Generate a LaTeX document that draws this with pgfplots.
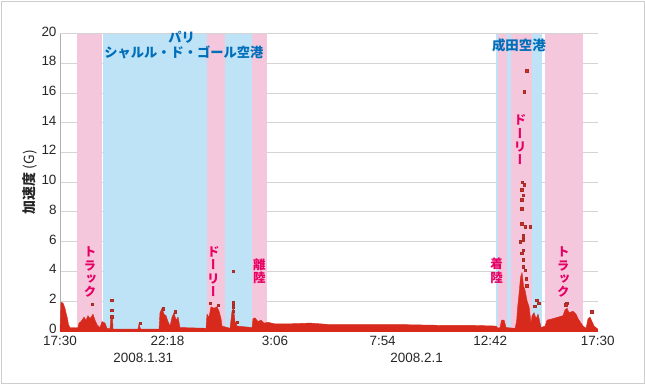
\documentclass[border=0pt]{standalone}
\usepackage{pgfplots}
\pgfplotsset{compat=1.18}
\usepackage{fontspec}
\setmainfont{Liberation Sans}
\newfontfamily\cjk{Noto Sans CJK JP}
\newfontfamily\cjkv[RawFeature=+vert]{Noto Sans CJK JP}
\definecolor{bandpink}{RGB}{245,199,221}
\definecolor{bandblue}{RGB}{190,227,247}
\definecolor{datared}{RGB}{216,42,28}
\definecolor{markdark}{RGB}{165,45,40}
\definecolor{labred}{RGB}{230,0,100}
\definecolor{labblue}{RGB}{0,110,185}
\definecolor{gridgray}{RGB}{212,212,212}
\definecolor{axisgray}{RGB}{175,175,175}
\definecolor{framegray}{RGB}{205,205,205}
\begin{document}
\begin{tikzpicture}
\useasboundingbox (0,0) rectangle (645bp,-385bp);
\draw[framegray, line width=1bp] (1bp,-1bp) rectangle (644bp,-383.5bp);
\begin{axis}[at={(60bp,-330.5bp)}, anchor=south west, scale only axis,
  width=537.7bp, height=297bp,
  xmin=0, xmax=1440, ymin=0, ymax=20, clip=false,
  axis lines*=left, axis line style={draw=axisgray, line width=0.6bp},
  xtick={0,288,576,864,1152,1440},
  xticklabels={17:30,22:18,3:06,7:54,12:42,17:30},
  ytick={0,2,...,20}, ymajorgrids, grid style={gridgray, line width=0.6bp},
  major tick length=0pt, tick style={draw=none},
  /pgf/number format/assume math mode=true,
  tick label style={font=\fontsize{13.5}{15}\selectfont, text=black!85},
  yticklabel style={yshift=2bp},
  xticklabel style={yshift=-2bp},
  ylabel={\cjk\bfseries 加速度 \mdseries(G)},
  ylabel style={at={(axis description cs:-0.0558,0.5)}, anchor=center, font=\fontsize{14}{16}\selectfont, text=black!85},
]
% bands
\addplot[fill=bandpink, draw=none] coordinates {(45.5,20) (111.7,20)} \closedcycle;
\addplot[fill=bandblue, draw=none] coordinates {(114.4,20) (393.7,20)} \closedcycle;
\addplot[fill=bandpink, draw=none] coordinates {(393.7,20) (441.9,20)} \closedcycle;
\addplot[fill=bandblue, draw=none] coordinates {(441.9,20) (513.4,20)} \closedcycle;
\addplot[fill=bandpink, draw=none] coordinates {(513.4,20) (555.2,20)} \closedcycle;
\addplot[fill=bandblue, draw=none] coordinates {(1167.6,20) (1174.3,20)} \closedcycle;
\addplot[fill=bandpink, draw=none] coordinates {(1174.3,20) (1197.2,20)} \closedcycle;
\addplot[fill=bandblue, draw=none] coordinates {(1197.2,20) (1207.8,20)} \closedcycle;
\addplot[fill=bandpink, draw=none] coordinates {(1207.8,20) (1263.6,20)} \closedcycle;
\addplot[fill=bandblue, draw=none] coordinates {(1263.6,20) (1290.0,20)} \closedcycle;
\addplot[fill=bandpink, draw=none] coordinates {(1297.6,20) (1401.5,20)} \closedcycle;
% data envelope
\addplot[fill=datared, draw=datared, line width=0.4bp] coordinates {
(0,0) (2.7,1.9) (8.0,1.85) (13.4,1.5) (16.1,1.2) (20.1,0.8) (22.8,0.4) (26.8,0.2)
(48.2,0.2) (50.9,0.5) (56.2,0.6) (64.3,0.9) (69.6,0.7) (75.0,1.0) (80.4,0.8) (88.4,1.1)
(93.7,0.7) (99.1,0.4) (107.1,0.2) (112.5,0.6) (120.5,0.5) (125.9,0.15) (133.9,0.15)
(136.6,0.9) (140.6,0.9) (142.0,0.1) (208.9,0.1) (211.6,0.45) (215.6,0.1) (265.2,0.1)
(267.8,1.2) (273.2,1.5) (278.6,1.1) (283.9,1.0) (289.3,0.6) (294.6,0.3) (300.0,0.9)
(305.3,1.2) (310.7,0.7) (316.1,0.9) (321.4,0.2) (391.0,0.15) (393.7,1.1) (399.1,0.9)
(404.4,1.6) (412.5,1.5) (420.5,1.6) (425.9,1.3) (431.2,0.8) (433.9,0.3) (455.3,0.15)
(460.7,1.3) (464.7,1.5) (468.7,0.6) (474.1,0.3) (514.3,0.2) (516.9,0.8) (522.3,0.85)
(530.3,0.6) (538.4,0.7) (546.4,0.5) (557.1,0.55) (575.7,0.45) (615.8,0.45) (669.6,0.5)
(723.2,0.4) (803.5,0.4) (910.7,0.4) (1017.8,0.35) (1098.1,0.35) (1167.8,0.3)
(1173.1,0.15) (1178.5,0.2) (1182.5,0.7) (1189.2,0.7) (1194.6,0.2) (1218.7,0.15)
(1222.7,0.6) (1225.4,1.5) (1229.4,2.5) (1233.4,3.6) (1237.4,3.9) (1241.4,3.0)
(1245.5,2.7) (1250.8,2.0) (1256.2,1.6) (1261.5,0.5) (1264.2,1.0) (1269.6,1.2)
(1274.9,0.8) (1280.3,1.1) (1285.6,0.5) (1288.3,0.2) (1299.0,0.3) (1304.4,0.7)
(1320.4,0.8) (1333.8,0.9) (1347.2,1.0) (1352.5,1.4) (1357.9,1.5) (1363.3,1.2)
(1374.0,1.3) (1382.0,1.1) (1387.4,0.8) (1395.4,0.5) (1400.8,0.3) (1408.8,0.15)
(1414.2,0.8) (1419.5,0.9) (1424.9,0.6) (1430.3,0.3) (1440,0.1) (1440,0)
} \closedcycle;
\addplot[datared, line width=3bp] coordinates {(0,0) (1440,0)};
% scattered outliers
\addplot[only marks, mark=square*, mark size=1.3bp,
  mark options={fill=datared, draw=markdark, line width=0.4bp}] coordinates {
(85.7,1.78) (138.5,2.05) (138.5,1.38) (138.5,0.93) (214.3,0.48) (275.9,1.45)
(308,1.25) (401.8,1.85) (423.2,1.7) (464.2,4.0) (464.2,1.87) (464.2,1.6) (464.2,1.3)
(474.9,0.55)
(1250,17.5) (1242.8,16.1) (1237.4,10.0) (1242.8,9.8) (1236.6,9.5) (1240.9,9.1)
(1236.6,8.8) (1236.6,8.2) (1236.6,7.2) (1245.5,7.0) (1258.8,7.0) (1240.9,6.4)
(1232.1,6.0) (1240.9,6.1) (1240.9,5.4) (1236.6,5.2) (1240.9,4.75) (1240.9,4.3)
(1245.5,4.07) (1248,3.5) (1250,3.0)
(1276.6,2.05) (1281.5,1.85) (1270.9,1.65) (1357.1,1.83) (1355,1.72) (1424.1,1.27)
};
% annotations
\node[font=\cjk\bfseries\fontsize{13.3}{14}\selectfont, text=labblue] at (axis cs:326,19.76) {パリ};
\node[font=\cjk\bfseries\fontsize{13.3}{14}\selectfont, text=labblue] at (axis cs:332,18.7) {シャルル・ド・ゴール空港};
\node[font=\cjk\bfseries\fontsize{13.5}{14}\selectfont, text=labblue] at (axis cs:1229,19.18) {成田空港};
\node[align=center, inner sep=0pt, font=\cjkv\bfseries\fontsize{12.5}{13.3}\selectfont, text=labred] at (axis cs:80.3,3.92) {ト\\ラ\\ッ\\ク};
\node[align=center, inner sep=0pt, font=\cjkv\bfseries\fontsize{12.5}{13.3}\selectfont, text=labred] at (axis cs:410.6,3.97) {ド\\ー\\リ\\ー};
\node[align=center, inner sep=0pt, font=\cjkv\bfseries\fontsize{12.5}{13.3}\selectfont, text=labred] at (axis cs:533.7,3.97) {離\\陸};
\node[align=center, inner sep=0pt, font=\cjkv\bfseries\fontsize{12.5}{13.3}\selectfont, text=labred] at (axis cs:1169.5,4.02) {着\\陸};
\node[align=center, inner sep=0pt, font=\cjkv\bfseries\fontsize{12.5}{13.3}\selectfont, text=labred] at (axis cs:1232,12.84) {ド\\ー\\リ\\ー};
\node[align=center, inner sep=0pt, font=\cjkv\bfseries\fontsize{12.5}{13.3}\selectfont, text=labred] at (axis cs:1348,3.92) {ト\\ラ\\ッ\\ク};
\node[font=\fontsize{13.5}{15}\selectfont, text=black!85] at (axis cs:223,-1.85) {2008.1.31};
\node[font=\fontsize{13.5}{15}\selectfont, text=black!85] at (axis cs:955,-1.85) {2008.2.1};
\end{axis}
\end{tikzpicture}
\end{document}
